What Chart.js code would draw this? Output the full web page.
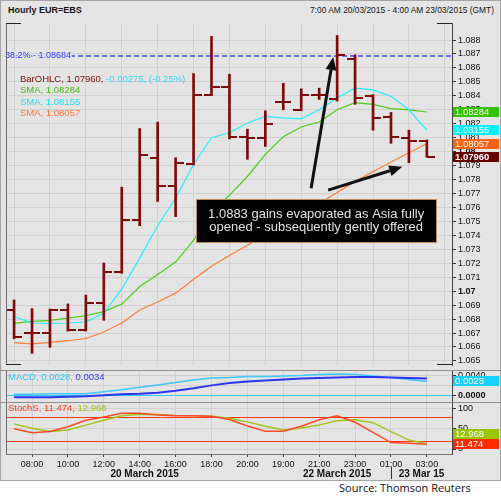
<!DOCTYPE html>
<html>
<head>
<meta charset="utf-8">
<title>Hourly EUR=EBS</title>
<script src="https://cdn.jsdelivr.net/npm/chart.js@4.4.1/dist/chart.umd.min.js"></script>
<style>
  html, body { margin: 0; padding: 0; background: #fff; }
  body { width: 501px; height: 497px; position: relative; overflow: hidden; font-family: "Liberation Sans", Arial, sans-serif; }
  #frame { position: absolute; left: 0; top: 0; width: 499px; height: 479px; border: 1px solid #a5a5a5; background: #e4e4e4; }
  .hdr { position: absolute; top: 5px; color: #151515; white-space: nowrap; line-height: 10px; }
  #title { left: 8px; font-size: 9px; font-weight: bold; }
  #range { right: 7px; font-size: 8.4px; }
  canvas { position: absolute; left: 0; }
  #source { position: absolute; left: 339px; top: 480px; font-family: "Open Sans", sans-serif; font-size: 11px; color: #111; }
</style>
</head>
<body>
<div id="frame"></div>
<div class="hdr" id="title">Hourly EUR=EBS</div>
<div class="hdr" id="range">7:00 AM 20/03/2015 - 4:00 AM 23/03/2015 (GMT)</div>
<canvas id="main" width="501" height="352" style="top:18px"></canvas>
<canvas id="macd" width="501" height="32" style="top:370px"></canvas>
<canvas id="stoch" width="501" height="78" style="top:402px"></canvas>
<div id="source">Source: Thomson Reuters</div>
<script>
// hourly bars, Fri 20 Mar 07:00 GMT .. Mon 23 Mar 03:00 (weekend gap after Fri 21:00)
const hours = ['07:00','08:00','09:00','10:00','11:00','12:00','13:00','14:00','15:00','16:00','17:00','18:00','19:00','20:00','21:00',
               '19:00','20:00','21:00','22:00','23:00','00:00','01:00','02:00','03:00'];

const opens  = [1.06868, 1.06702, 1.06700, 1.06868, 1.06721, 1.06918, 1.07137, 1.07510, 1.07954, 1.07752, 1.07914, 1.08409,
                1.08460, 1.08102, 1.08100, 1.08358, 1.08300, 1.08409, 1.08379, 1.08664, 1.08397, 1.08251, 1.08100, 1.08077];
const highs  = [1.06937, 1.06875, 1.06872, 1.06909, 1.06972, 1.07202, 1.07745, 1.08165, 1.08212, 1.07956, 1.08560, 1.08826,
                1.08555, 1.08161, 1.08293, 1.08490, 1.08450, 1.08455, 1.08833, 1.08694, 1.08409, 1.08281, 1.08154, 1.08084];
const lows   = [1.06659, 1.06554, 1.06598, 1.06714, 1.06714, 1.06791, 1.07128, 1.07469, 1.07643, 1.07534, 1.07905, 1.08402,
                1.08091, 1.07945, 1.08037, 1.08300, 1.08293, 1.08374, 1.08363, 1.08339, 1.08154, 1.08060, 1.07921, 1.07960];
const closes = [1.06673, 1.06698, 1.06868, 1.06721, 1.06918, 1.07137, 1.07510, 1.07973, 1.07752, 1.07916, 1.08409, 1.08460,
                1.08102, 1.08100, 1.08200, 1.08358, 1.08409, 1.08405, 1.08692, 1.08386, 1.08239, 1.08107, 1.08077, 1.07960];

const smaGreen  = [1.06770, 1.06784, 1.06791, 1.06807, 1.06824, 1.06854, 1.06907, 1.07033, 1.07120, 1.07209, 1.07364, 1.07562,
                   1.07689, 1.07822, 1.07980, 1.08107, 1.08177, 1.08212, 1.08300, 1.08351, 1.08339, 1.08309, 1.08300, 1.08284];
const smaCyan   = [1.06819, 1.06772, 1.06770, 1.06772, 1.06779, 1.06842, 1.07016, 1.07237, 1.07469, 1.07666, 1.07910, 1.08100,
                   1.08135, 1.08205, 1.08253, 1.08242, 1.08235, 1.08300, 1.08386, 1.08455, 1.08443, 1.08397, 1.08300, 1.08155];
const smaOrange = [1.06631, 1.06622, 1.06633, 1.06645, 1.06661, 1.06707, 1.06772, 1.06865, 1.06923, 1.06986, 1.07085, 1.07179,
                   1.07255, 1.07329, 1.07402, 1.07478, 1.07554, 1.07630, 1.07708, 1.07787, 1.07856, 1.07926, 1.07992, 1.08057];

const macdLine   = [0.0002, 0.0002, 0.0003, 0.0003, 0.0003, 0.0007, 0.0011, 0.0016, 0.0021, 0.0026, 0.0031, 0.0035,
                    0.0036, 0.0038, 0.0038, 0.0039, 0.0040, 0.0042, 0.0043, 0.0042, 0.0039, 0.0036, 0.0032, 0.0028];
const macdSignal = [-0.0004, -0.0004, -0.0004, -0.0003, -0.0002, 0.0000, 0.0002, 0.0003, 0.0005, 0.0009, 0.0014, 0.0020,
                    0.0025, 0.0028, 0.0030, 0.0032, 0.0034, 0.0035, 0.0036, 0.0037, 0.0037, 0.0036, 0.0035, 0.0034];

const stochK = [50, 40, 43, 55, 71, 79, 88, 88, 84, 82, 82, 81, 73, 57, 44, 44, 56, 72, 82, 66, 41, 16, 14, 11.474];
const stochD = [62, 51, 43, 47, 59, 71, 82, 86, 85, 83, 82, 81, 76, 67, 56, 47, 52, 59, 70, 72, 65, 43, 22, 12.968];

const priceTicks = [1.065, 1.066, 1.067, 1.068, 1.069, 1.070, 1.071, 1.072, 1.073, 1.074, 1.075, 1.076,
                    1.077, 1.078, 1.079, 1.080, 1.081, 1.082, 1.083, 1.084, 1.085, 1.086, 1.087, 1.088];
const macdTicks = [0, 0.002, 0.004];
const macdLabelled = [0, 0.004];
const stochTicks = [0, 50, 100];
const stochBands = [80, 20];

const fibName = '38.2%';
const fibLevel = 1.08684;
const lastChange = '-0.00275';
const lastChangePct = '-0.25%';

const noteLines = ['1.0883 gains evaporated as Asia fully', 'opened - subsequently gently offered'];
const noteAt = [16.83, 1.07506];
const arrows = [[16.55, 1.07738, 17.78, 1.08678], [17.5, 1.07724, 21.63, 1.07891]];

const days = ['20 March 2015', '22 March 2015', '23 Mar 15'];
const dayBreaks = [15, 21];

const X_MIN = -0.45, X_MAX = 24.4;
const FONT = '"Liberation Sans", Arial, sans-serif';
const GRID = '#d0d0d0';
const BG = '#e4e4e4';
const BAR_RED = '#7d0b0b';
const last = a => a[a.length - 1];

Chart.defaults.font.family = FONT;
Chart.defaults.font.size = 9;
Chart.defaults.color = '#111';

const series = arr => arr.map((v, i) => ({ x: i, y: v }));
const labelledHours = hours.map((h, i) => i).filter(i => i % 2 === 1);

function line(ctx, x0, y0, x1, y1) {
  ctx.beginPath(); ctx.moveTo(x0, y0); ctx.lineTo(x1, y1); ctx.stroke();
}

function tickMark(side) {
  const c = document.createElement('canvas');
  c.width = 16; c.height = 2;
  const g = c.getContext('2d');
  g.fillStyle = BAR_RED;
  g.fillRect(side === 'open' ? 0 : 8, 0, 8, 2);
  return c;
}

function timeAxis(showLabels) {
  return {
    type: 'linear', min: X_MIN, max: X_MAX, offset: false,
    afterBuildTicks: s => { s.ticks = labelledHours.map(v => ({ value: v })); },
    afterFit: s => { s.height = showLabels ? 26 : 0; s.paddingLeft = 0; s.paddingRight = 0; },
    grid: { color: GRID, drawTicks: showLabels, tickLength: 3, tickColor: '#444' },
    border: { display: showLabels, color: '#777' },
    ticks: { display: showLabels, autoSkip: false, maxRotation: 0, padding: 2, color: '#111',
             font: { size: 9 }, callback: v => hours[v] }
  };
}

function valueAxis(min, max, ticks, fmt, boldIf) {
  return {
    position: 'right', min: min, max: max,
    afterBuildTicks: s => { s.ticks = ticks.map(v => ({ value: v })); },
    afterFit: s => { s.width = 49; s.paddingTop = 0; s.paddingBottom = 0; },
    grid: { color: GRID, tickLength: 4, tickColor: '#333' },
    border: { color: '#444' },
    ticks: { autoSkip: false, padding: 2, color: '#111', callback: fmt,
             font: c => ({ size: 9, weight: c.tick && boldIf(c.tick.value) ? 'bold' : 'normal' }) }
  };
}

// ---- plugins ----
function panelEdges(opts) {
  return {
    id: 'panelEdges',
    afterDraw(chart) {
      const { ctx, chartArea: a, width } = chart;
      ctx.save();
      ctx.lineWidth = 1;
      ctx.strokeStyle = '#707070';
      line(ctx, a.left + 0.5, a.top, a.left + 0.5, a.bottom);
      if (opts.topRule) { ctx.strokeStyle = '#8f8f8f'; line(ctx, 0, 0.5, width, 0.5); }
      if (opts.corners) {
        ctx.strokeStyle = '#222';
        const t = a.top + 0.5, b = a.bottom - 0.5;
        line(ctx, a.left, t, a.left + 15, t); line(ctx, a.right - 15, t, a.right, t);
        line(ctx, a.left, b, a.left + 15, b); line(ctx, a.right - 15, b, a.right, b);
      }
      ctx.restore();
    }
  };
}

function levelLines(values, color, width) {
  return {
    id: 'levelLines',
    beforeDatasetsDraw(chart) {
      const { ctx, chartArea: a } = chart;
      const ys = chart.scales.y;
      ctx.save();
      ctx.strokeStyle = color; ctx.lineWidth = width;
      values.forEach(v => {
        const py = Math.round(ys.getPixelForValue(v)) + 0.5;
        line(ctx, a.left, py, a.right, py);
      });
      ctx.restore();
    }
  };
}

function legendLines(x, y0, step, lines) {
  return {
    id: 'legendLines',
    afterDatasetsDraw(chart) {
      const ctx = chart.ctx;
      ctx.save();
      ctx.font = '9.5px ' + FONT;
      ctx.textBaseline = 'middle';
      lines.forEach((segs, i) => {
        let px = x;
        segs.forEach(([t, c]) => {
          ctx.fillStyle = c;
          ctx.fillText(t, px, y0 + i * step);
          px += ctx.measureText(t).width;
        });
      });
      ctx.restore();
    }
  };
}

function valueBoxes(items) {
  return {
    id: 'valueBoxes',
    afterDatasetsDraw(chart) {
      const ctx = chart.ctx;
      const ys = chart.scales.y;
      const h = 10;
      let prevTop = Infinity;
      const list = items.map(it => Object.assign({ py: ys.getPixelForValue(it.value) }, it))
                        .sort((p, q) => q.py - p.py);
      ctx.save();
      ctx.textBaseline = 'middle';
      list.forEach(it => {
        let cy = it.py;
        if (cy + h / 2 > prevTop) cy = prevTop - h / 2;
        prevTop = cy - h / 2;
        ctx.fillStyle = it.bg;
        ctx.fillRect(ys.left + 1, Math.round(cy - h / 2), 46, h);
        ctx.fillStyle = it.fg;
        ctx.font = (it.bold ? 'bold ' : '') + '9.5px ' + FONT;
        ctx.fillText(it.text, ys.left + 3, Math.round(cy - h / 2) + h / 2 + 0.5);
      });
      ctx.restore();
    }
  };
}

const fibLine = {
  id: 'fibLine',
  beforeDatasetsDraw(chart) {
    const { ctx, chartArea: a } = chart;
    const py = Math.round(chart.scales.y.getPixelForValue(fibLevel));
    ctx.save();
    ctx.strokeStyle = '#6a6aff'; ctx.lineWidth = 2; ctx.setLineDash([5, 3]);
    line(ctx, a.left, py, a.right, py);
    ctx.setLineDash([]);
    const label = fibName + ' - ' + fibLevel.toFixed(5);
    ctx.font = '9px ' + FONT; ctx.textBaseline = 'middle';
    ctx.lineWidth = 2.5; ctx.strokeStyle = BG; ctx.lineJoin = 'round';
    ctx.strokeText(label, a.left - 1, py);
    ctx.fillStyle = '#3030ff';
    ctx.fillText(label, a.left - 1, py);
    ctx.restore();
  }
};

function drawArrow(ctx, x0, y0, x1, y1) {
  const ang = Math.atan2(y1 - y0, x1 - x0);
  const L = 13, W = 5.5;
  const bx = x1 - L * Math.cos(ang), by = y1 - L * Math.sin(ang);
  ctx.lineWidth = 3;
  line(ctx, x0, y0, bx, by);
  ctx.beginPath();
  ctx.moveTo(x1, y1);
  ctx.lineTo(bx + W * Math.sin(ang), by - W * Math.cos(ang));
  ctx.lineTo(bx - W * Math.sin(ang), by + W * Math.cos(ang));
  ctx.closePath();
  ctx.fill();
}

const noteBox = {
  id: 'noteBox',
  afterDatasetsDraw(chart) {
    const ctx = chart.ctx;
    const xs = chart.scales.x, ys = chart.scales.y;
    ctx.save();
    ctx.fillStyle = '#111'; ctx.strokeStyle = '#111';
    arrows.forEach(([a, b, c, d]) =>
      drawArrow(ctx, xs.getPixelForValue(a), ys.getPixelForValue(b), xs.getPixelForValue(c), ys.getPixelForValue(d)));
    ctx.font = '13px ' + FONT;
    const lh = 13.3;
    const w = Math.round(Math.max(...noteLines.map(t => ctx.measureText(t).width)) + 24);
    const h = Math.round(noteLines.length * lh + 16);
    const cx = xs.getPixelForValue(noteAt[0]), cy = ys.getPixelForValue(noteAt[1]);
    const l = Math.round(cx - w / 2) + 0.5, t = Math.round(cy - h / 2) + 0.5;
    ctx.fillStyle = '#000';
    ctx.fillRect(l, t, w, h);
    ctx.lineWidth = 1; ctx.strokeStyle = '#b58d55';
    ctx.strokeRect(l, t, w, h);
    ctx.fillStyle = '#e2e2e2'; ctx.textAlign = 'center'; ctx.textBaseline = 'middle';
    noteLines.forEach((s, i) => ctx.fillText(s, cx, cy + (i - (noteLines.length - 1) / 2) * lh));
    ctx.restore();
  }
};

const dateRow = {
  id: 'dateRow',
  afterDraw(chart) {
    const { ctx, chartArea: a } = chart;
    const xs = chart.scales.x;
    const edges = [a.left].concat(dayBreaks.map(v => xs.getPixelForValue(v)), [a.right]);
    ctx.save();
    ctx.font = 'bold 10px ' + FONT;
    ctx.fillStyle = '#111'; ctx.textAlign = 'center'; ctx.textBaseline = 'middle';
    days.forEach((d, i) => ctx.fillText(d, (edges[i] + edges[i + 1]) / 2, a.bottom + 20));
    const sx = Math.round(edges[edges.length - 2]) + 0.5;
    ctx.strokeStyle = '#333'; ctx.lineWidth = 1;
    line(ctx, sx, a.bottom + 13, sx, a.bottom + 25);
    ctx.restore();
  }
};

function makeChart(id, datasets, yAxis, showTime, plugins) {
  return new Chart(document.getElementById(id), {
    type: 'scatter',
    data: { datasets: datasets },
    options: {
      responsive: false, animation: false, events: [],
      layout: { padding: { left: 6, right: 0, top: 0, bottom: 0 } },
      scales: { x: timeAxis(showTime), y: yAxis },
      plugins: { legend: { display: false }, tooltip: { enabled: false } }
    },
    plugins: plugins
  });
}

const isRound = v => Math.abs(v * 100 - Math.round(v * 100)) < 1e-6;
const lineSet = (arr, color, w) => ({ type: 'line', data: series(arr), borderColor: color, borderWidth: w,
                                      pointRadius: 0, tension: 0, fill: false });

// ---- price panel ----
makeChart('main', [
  { type: 'scatter', data: series(opens), pointStyle: tickMark('open'), pointRadius: 4 },
  { type: 'scatter', data: series(closes), pointStyle: tickMark('close'), pointRadius: 4 },
  { type: 'bar', data: lows.map((l, i) => ({ x: i, y: [l, highs[i]] })), backgroundColor: BAR_RED,
    borderWidth: 0, barThickness: 2, grouped: false },
  lineSet(smaCyan, '#22eeff', 1.2),
  lineSet(smaGreen, '#4ccc14', 1.2),
  lineSet(smaOrange, '#ff7a34', 1.2)
], valueAxis(1.06471, 1.08922, priceTicks, v => String(+v.toFixed(3)), isRound), false, [
  fibLine,
  legendLines(20, 61, 11.5, [
    [['BarOHLC, ' + last(closes).toFixed(5) + ', ', BAR_RED], [lastChange + ', (' + lastChangePct + ')', '#2fd8f0']],
    [['SMA, ' + last(smaGreen).toFixed(5), '#44bb11']],
    [['SMA, ' + last(smaCyan).toFixed(5), '#22e0ee']],
    [['SMA, ' + last(smaOrange).toFixed(5), '#ff7733']]
  ]),
  noteBox,
  valueBoxes([
    { value: last(smaGreen), text: last(smaGreen).toFixed(5), bg: '#33c400', fg: '#fff' },
    { value: last(smaCyan), text: last(smaCyan).toFixed(5), bg: '#00f4ff', fg: '#fff' },
    { value: last(smaOrange), text: last(smaOrange).toFixed(5), bg: '#ff6210', fg: '#fff' },
    { value: last(closes), text: last(closes).toFixed(5), bg: '#650000', fg: '#fff', bold: true }
  ]),
  panelEdges({ corners: true })
]);

// ---- MACD panel ----
makeChart('macd', [
  lineSet(macdSignal, '#2b35ee', 2),
  lineSet(macdLine, '#3cc8ff', 1.5)
], valueAxis(-0.00135, 0.0051, macdTicks,
             v => macdLabelled.some(t => Math.abs(t - v) < 1e-9) ? v.toFixed(4) : '',
             v => Math.abs(v) < 1e-9), false, [
  levelLines([0], '#33ccff', 1),
  legendLines(8, 7.5, 11, [
    [['MACD, ' + last(macdLine).toFixed(4) + ', ', '#2cc4f4'], [last(macdSignal).toFixed(4), '#3a3aee']]
  ]),
  valueBoxes([
    { value: last(macdLine), text: last(macdLine).toFixed(4), bg: '#16d2ff', fg: '#fff' }
  ]),
  panelEdges({ topRule: true })
]);

// ---- Stochastic panel ----
makeChart('stoch', [
  lineSet(stochK, '#ff4a2a', 1.5),
  lineSet(stochD, '#a2c41c', 1.5)
], valueAxis(-12.3, 116, stochTicks, v => String(v), () => false), true, [
  levelLines(stochBands, '#ff3a10', 1),
  legendLines(8, 6.5, 11, [
    [['StochS, ' + last(stochK).toFixed(3) + ', ', '#ff3a18'], [last(stochD).toFixed(3), '#9cbf10']]
  ]),
  valueBoxes([
    { value: last(stochK), text: last(stochK).toFixed(3), bg: '#ff2a00', fg: '#fff' },
    { value: last(stochD), text: last(stochD).toFixed(3), bg: '#99c400', fg: '#fff' }
  ]),
  dateRow,
  panelEdges({ topRule: true })
]);
</script>
</body>
</html>
